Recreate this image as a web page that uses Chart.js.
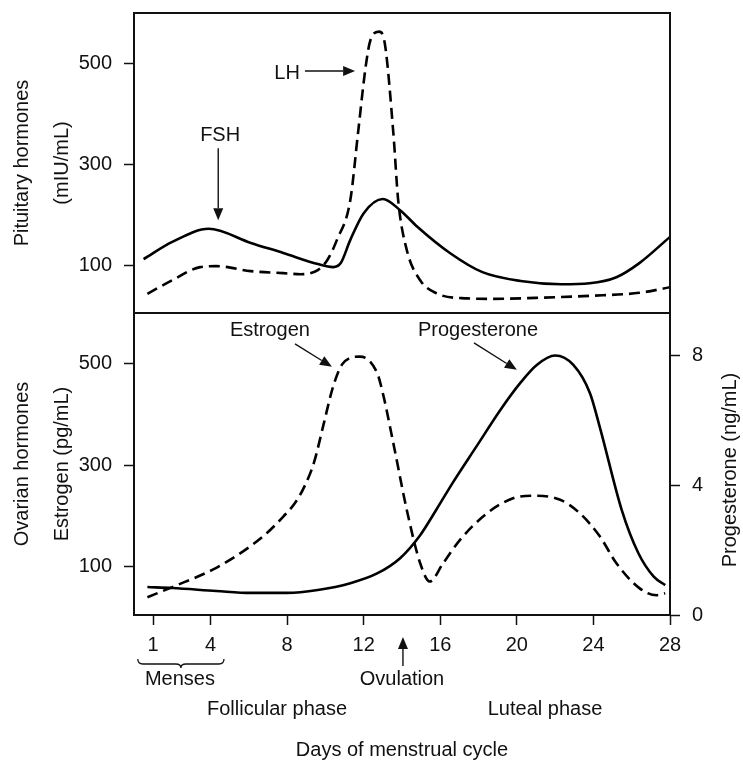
<!DOCTYPE html>
<html>
<head>
<meta charset="utf-8">
<script src="https://cdn.jsdelivr.net/npm/chart.js@4.4.0/dist/chart.umd.min.js"></script>
<style>
  body { margin: 0; background: #fff; }
  #wrap { position: relative; width: 743px; height: 760px; }
  canvas { position: absolute; left: 0; top: 0; }
</style>
</head>
<body>
<div id="wrap">
  <canvas id="ovarian" width="743" height="760"></canvas>
  <canvas id="pituitary" width="743" height="760"></canvas>
</div>
<script>
// Sample data
const dayTicks = [1, 4, 8, 12, 16, 20, 24, 28];
const pituitaryTicks = [100, 300, 500];
const estrogenTicks = [100, 300, 500];
const progesteroneTicks = [0, 4, 8];

const fshDays = [0.5, 2.0, 3.9, 6.1, 7.8, 9.6, 10.4, 10.8, 11.3, 12.0, 13.0, 13.9, 14.8, 16.5, 18.2, 20.3, 22.3, 23.8, 25.2, 26.4, 28];
const fshValues = [112, 146, 172, 144, 124, 102, 96, 104, 150, 203, 231, 209, 176, 124, 86, 68, 62, 64, 76, 104, 156];

const lhDays = [0.7, 2.0, 3.45, 4.3, 6.1, 7.8, 8.7, 9.6, 10.1, 10.6, 11.3, 11.7, 12.1, 12.35, 12.8, 13.1, 13.55, 13.8, 14.25, 14.95, 15.8, 17.4, 18.6, 21, 23.8, 26.4, 28];
const lhValues = [43, 70, 96, 98, 88, 84, 82, 90, 110, 150, 229, 361, 493, 546, 563, 540, 361, 229, 130, 70, 44, 34, 33, 35, 39, 45, 56];

const estrogenDays = [0.7, 2.0, 4.3, 6.06, 6.93, 7.8, 8.4, 8.9, 9.4, 9.9, 10.4, 10.9, 11.8, 12.7, 13.0, 13.55, 14.25, 14.95, 15.45, 16.15, 17.03, 18.43, 19.8, 20.86, 22.26, 23.3, 24.35, 25.2, 26.4, 27.3, 27.75];
const estrogenValues = [40, 60, 98, 140, 166, 199, 225, 258, 305, 380, 455, 500, 514, 482, 442, 343, 212, 107, 71, 107, 153, 205, 235, 240, 232, 205, 159, 107, 58, 44, 48];

const progesteroneDays = [0.7, 2.0, 4.3, 6.1, 8, 9.6, 11.3, 12.7, 13.9, 14.94, 15.8, 16.68, 17.9, 19.12, 20.17, 21.04, 22.0, 22.95, 23.82, 24.35, 25.48, 26.35, 27.15, 27.75];
const progesteroneValues = [0.86, 0.83, 0.74, 0.68, 0.68, 0.77, 0.98, 1.28, 1.75, 2.45, 3.25, 4.1, 5.2, 6.3, 7.14, 7.7, 7.99, 7.7, 6.83, 5.75, 3.23, 1.9, 1.18, 0.92];

const FONT = "'Liberation Sans', Arial, Helvetica, sans-serif";
const INK = "#111";

function points(days, values) {
    return days.map((d, i) => ({ x: d, y: values[i] }));
}

function line(data, dashed, axis) {
    return {
        data: data,
        yAxisID: axis,
        borderColor: "#000",
        borderWidth: 2.6,
        borderDash: dashed ? [11, 6] : [],
        pointRadius: 0,
        fill: false,
        cubicInterpolationMode: "monotone",
    };
}

function fixedTicks(list) {
    return (axis) => { axis.ticks = list.map((v) => ({ value: v })); };
}

// fixed axis sizes so both panels share the same plot box
function fixWidth(w) {
    return (axis) => { axis.width = w; axis.paddingTop = 0; axis.paddingBottom = 0; };
}

function arrow(ctx, x1, y1, x2, y2) {
    const a = Math.atan2(y2 - y1, x2 - x1);
    const len = 12, half = 5;
    const bx = x2 - Math.cos(a) * len, by = y2 - Math.sin(a) * len;
    ctx.beginPath();
    ctx.moveTo(x1, y1);
    ctx.lineTo(bx, by);
    ctx.stroke();
    ctx.beginPath();
    ctx.moveTo(x2, y2);
    ctx.lineTo(bx + Math.sin(a) * half, by - Math.cos(a) * half);
    ctx.lineTo(bx - Math.sin(a) * half, by + Math.cos(a) * half);
    ctx.closePath();
    ctx.fill();
}

function textStyle(ctx) {
    ctx.fillStyle = INK;
    ctx.strokeStyle = INK;
    ctx.lineWidth = 1.4;
    ctx.font = "20px " + FONT;
    ctx.textAlign = "center";
    ctx.textBaseline = "middle";
}

// Box round each panel
const framePlugin = {
    id: "frame",
    afterDatasetsDraw(chart) {
        const { ctx, chartArea: a } = chart;
        ctx.save();
        ctx.strokeStyle = INK;
        ctx.lineWidth = 2;
        ctx.strokeRect(a.left, a.top, a.right - a.left, a.bottom - a.top);
        ctx.restore();
    },
};

const pituitaryNotes = {
    id: "pituitaryNotes",
    afterDraw(chart) {
        const { ctx, scales } = chart;
        const px = (d) => scales.x.getPixelForValue(d);
        const py = (v) => scales.y.getPixelForValue(v);
        ctx.save();
        textStyle(ctx);
        ctx.fillText("FSH", px(4.5), py(358));
        arrow(ctx, px(4.4), py(332), px(4.4), py(189));
        ctx.fillText("LH", px(8.0), py(481));
        arrow(ctx, px(8.93), py(485), px(11.55), py(485));
        ctx.restore();
    },
};

const ovarianNotes = {
    id: "ovarianNotes",
    afterDraw(chart) {
        const { ctx, scales, chartArea } = chart;
        const px = (d) => scales.x.getPixelForValue(d);
        const py = (v) => scales.y.getPixelForValue(v);
        const b = chartArea.bottom;
        ctx.save();
        textStyle(ctx);
        ctx.fillText("Estrogen", px(7.1), py(565));
        arrow(ctx, px(8.41), py(539), px(10.34), py(494));
        ctx.fillText("Progesterone", px(17.97), py(565));
        arrow(ctx, px(17.76), py(541), px(20.0), py(488));

        // ovulation marker
        arrow(ctx, px(14.05), b + 51, px(14.05), b + 22);

        // menses brace
        const x1 = px(0.2), x2 = px(4.7), xm = (x1 + x2) / 2;
        const top = b + 44, mid = b + 49, tip = b + 53, r = 5;
        ctx.lineWidth = 1.3;
        ctx.beginPath();
        ctx.moveTo(x1, top);
        ctx.quadraticCurveTo(x1, mid, x1 + r, mid);
        ctx.lineTo(xm - r, mid);
        ctx.quadraticCurveTo(xm, mid, xm, tip);
        ctx.quadraticCurveTo(xm, mid, xm + r, mid);
        ctx.lineTo(x2 - r, mid);
        ctx.quadraticCurveTo(x2, mid, x2, top);
        ctx.stroke();

        ctx.fillText("Menses", px(2.4), b + 64);
        ctx.fillText("Ovulation", px(14.0), b + 64);
        ctx.fillText("Follicular phase", px(7.47), b + 94);
        ctx.fillText("Luteal phase", px(21.47), b + 94);

        // right axis title reads bottom to top
        ctx.translate(730, 470);
        ctx.rotate(-Math.PI / 2);
        ctx.fillText("Progesterone (ng/mL)", 0, 0);
        ctx.restore();
    },
};

const tickFont = { family: FONT, size: 20 };
const axisGrid = { drawOnChartArea: false, drawTicks: true, tickLength: 10, tickColor: INK, tickWidth: 1.5 };

function leftTitle(lines) {
    return {
        display: true,
        text: lines,
        color: INK,
        font: { family: FONT, size: 20, lineHeight: "40px" },
        padding: { top: 2, bottom: 0 },
    };
}

// Top panel: pituitary hormones
new Chart(document.getElementById("pituitary"), {
    type: "line",
    data: {
        datasets: [
            line(points(fshDays, fshValues), false, "y"),
            line(points(lhDays, lhValues), true, "y"),
        ],
    },
    options: {
        responsive: false,
        animation: false,
        devicePixelRatio: 1,
        layout: { padding: { top: 13, bottom: 447, left: 0, right: 73 } },
        plugins: { legend: { display: false }, tooltip: { enabled: false } },
        scales: {
            x: { type: "linear", min: 0, max: 28, display: false },
            y: {
                type: "linear",
                position: "left",
                min: 5,
                max: 600,
                afterBuildTicks: fixedTicks(pituitaryTicks),
                afterFit: fixWidth(134),
                grid: axisGrid,
                border: { display: false },
                ticks: { color: INK, font: tickFont, padding: 12 },
                title: leftTitle(["Pituitary hormones", "(mIU/mL)"]),
            },
        },
    },
    plugins: [framePlugin, pituitaryNotes],
});

// Bottom panel: ovarian hormones
new Chart(document.getElementById("ovarian"), {
    type: "line",
    data: {
        datasets: [
            line(points(estrogenDays, estrogenValues), true, "y"),
            line(points(progesteroneDays, progesteroneValues), false, "yProg"),
        ],
    },
    options: {
        responsive: false,
        animation: false,
        devicePixelRatio: 1,
        layout: { padding: { top: 313, bottom: 0, left: 0, right: 0 } },
        plugins: { legend: { display: false }, tooltip: { enabled: false } },
        scales: {
            x: {
                type: "linear",
                min: 0,
                max: 28,
                afterBuildTicks: fixedTicks(dayTicks),
                afterFit: (axis) => { axis.height = 145; axis.paddingLeft = 0; axis.paddingRight = 0; },
                grid: axisGrid,
                border: { display: false },
                ticks: { color: INK, font: tickFont, padding: 8, maxRotation: 0 },
                title: {
                    display: true,
                    text: "Days of menstrual cycle",
                    color: INK,
                    font: { family: FONT, size: 20, lineHeight: 1 },
                    padding: { top: 0, bottom: 0 },
                },
            },
            y: {
                type: "linear",
                position: "left",
                min: 5,
                max: 600,
                afterBuildTicks: fixedTicks(estrogenTicks),
                afterFit: fixWidth(134),
                grid: axisGrid,
                border: { display: false },
                ticks: { color: INK, font: tickFont, padding: 12 },
                title: leftTitle(["Ovarian hormones", "Estrogen (pg/mL)"]),
            },
            yProg: {
                type: "linear",
                position: "right",
                min: 0,
                max: 9.3,
                afterBuildTicks: fixedTicks(progesteroneTicks),
                afterFit: fixWidth(73),
                grid: axisGrid,
                border: { display: false },
                ticks: { color: INK, font: tickFont, padding: 12 },
            },
        },
    },
    plugins: [framePlugin, ovarianNotes],
});
</script>
</body>
</html>
